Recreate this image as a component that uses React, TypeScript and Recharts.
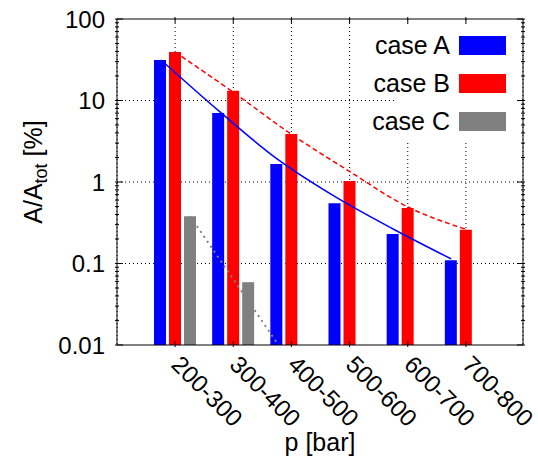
import { ComposedChart, Bar, Line, XAxis, YAxis, CartesianGrid, Legend, Label } from 'recharts'

const categories = ['200-300', '300-400', '400-500', '500-600', '600-700', '700-800']
const caseA = [31.4, 7.0, 1.66, 0.55, 0.23, 0.11]
const caseB = [39.4, 13.2, 3.88, 1.03, 0.48, 0.26]
const caseC: (number | null)[] = [0.38, 0.059, null, null, null, null]

// fitted curves, x in group units (0 = first group centre)
const fitAx = [-0.24, 0.76, 1.76, 2.76, 3.76, 4.76]
const fitAy = [31.4, 7.4, 1.92, 0.66, 0.265, 0.114]
const fitBx = [0, 1, 2, 3, 4, 5]
const fitBy = [39.4, 12.7, 3.88, 1.36, 0.5, 0.265]
const fitCx = [0.26, 1.26, 2.26]
const fitCy = [0.38, 0.035, 0.0032]

const yMajor = [0.01, 0.1, 1, 10, 100]
const yTicks = [
  ...[0.01, 0.1, 1, 10].flatMap((d) => [1, 2, 3, 4, 5, 6, 7, 8, 9].map((k) => (k === 1 ? d : d * k))),
  100,
]

const data = categories.map((cat, i) => ({ cat, A: caseA[i], B: caseB[i], C: caseC[i] }))
const fitA = fitAx.map((x, i) => ({ x, y: fitAy[i] }))
const fitB = fitBx.map((x, i) => ({ x, y: fitBy[i] }))
const fitC = fitCx.map((x, i) => ({ x, y: fitCy[i] }))

const FONT = 'Liberation Sans, Arial, sans-serif'
const PAD = { left: 29, right: 28 }

const LeftTick = ({ x, y, payload }: any) => {
  const major = yMajor.indexOf(payload.value) >= 0
  return (
    <g>
      <line x1={x} x2={x + (major ? 8 : 4)} y1={y} y2={y} stroke="#000" />
      {major && (
        <text x={x - 10} y={y} dy="0.36em" textAnchor="end" fontSize={24} fill="#000">
          {String(payload.value)}
        </text>
      )}
    </g>
  )
}

const RightTick = ({ x, y, payload }: any) => {
  const major = yMajor.indexOf(payload.value) >= 0
  return <line x1={x} x2={x - (major ? 8 : 4)} y1={y} y2={y} stroke="#000" />
}

const BottomTick = ({ x, y, payload }: any) => (
  <g>
    <line x1={x} x2={x} y1={y} y2={y - 6} stroke="#000" />
    <text
      x={x - 5}
      y={y + 19}
      transform={`rotate(45, ${x - 5}, ${y + 19})`}
      fontSize={24}
      fill="#000"
    >
      {payload.value}
    </text>
  </g>
)

const TopTick = ({ x, y }: any) => <line x1={x} x2={x} y1={y} y2={y + 6} stroke="#000" />

function KeyBox({ payload }: any) {
  const items = (payload || []).filter((p: any) => p.type !== 'none' && p.dataKey !== 'y')
  return (
    <div style={{ position: 'relative', width: 174, height: 115 }}>
      <div style={{ position: 'absolute', left: 55, top: 0, right: 0, bottom: 0, background: '#fff' }} />
      <div style={{ position: 'relative', paddingTop: 1 }}>
        {items.map((p: any) => (
          <div
            key={p.value}
            style={{ display: 'flex', justifyContent: 'flex-end', alignItems: 'center', height: 38 }}
          >
            <span style={{ fontSize: 25, lineHeight: 1, whiteSpace: 'nowrap', color: '#000' }}>{p.value}</span>
            <span style={{ width: 47, height: 19, background: p.color, marginLeft: 9, marginRight: 8 }} />
          </div>
        ))}
      </div>
    </div>
  )
}

export default function App() {
  return (
    <div style={{ position: 'absolute', left: 0, top: 0, fontFamily: FONT }}>
      <ComposedChart
        width={538}
        height={459}
        data={data}
        barGap={3}
        margin={{ top: 18, right: 14, left: 0, bottom: 0 }}
      >
        <CartesianGrid stroke="#000" strokeDasharray="1 3" horizontalValues={[0.1, 1, 10]} />
        <XAxis
          dataKey="cat"
          height={114}
          padding={PAD}
          interval={0}
          tickSize={0}
          tickLine={false}
          tick={<BottomTick />}
          axisLine={{ stroke: '#000' }}
        >
          <Label
            content={({ viewBox }: any) => (
              <text
                x={viewBox.x + viewBox.width / 2}
                y={viewBox.y + 106}
                textAnchor="middle"
                fontSize={25}
                fill="#000"
              >
                p [bar]
              </text>
            )}
          />
        </XAxis>
        <XAxis
          xAxisId="top"
          orientation="top"
          dataKey="cat"
          height={1}
          padding={PAD}
          interval={0}
          tickSize={0}
          tickLine={false}
          tick={<TopTick />}
          axisLine={{ stroke: '#000' }}
        />
        <XAxis xAxisId="fit" type="number" dataKey="x" domain={[-1, 6]} allowDataOverflow hide />
        <YAxis
          type="number"
          scale="log"
          domain={[0.01, 100]}
          allowDataOverflow
          ticks={yTicks}
          interval={0}
          width={117}
          tickSize={0}
          tickLine={false}
          tick={<LeftTick />}
          axisLine={{ stroke: '#000' }}
        >
          <Label
            content={({ viewBox }: any) => {
              const cx = viewBox.x + 42
              const cy = 172
              return (
                <text
                  x={cx}
                  y={cy}
                  transform={`rotate(-90, ${cx}, ${cy})`}
                  textAnchor="middle"
                  fontSize={25}
                  fill="#000"
                >
                  A/A
                  <tspan dy={5} fontSize={18}>tot</tspan>
                  <tspan dy={-5}> [%]</tspan>
                </text>
              )
            }}
          />
        </YAxis>
        <YAxis
          yAxisId="right"
          orientation="right"
          type="number"
          scale="log"
          domain={[0.01, 100]}
          allowDataOverflow
          ticks={yTicks}
          interval={0}
          width={1}
          tickSize={0}
          tickLine={false}
          tick={<RightTick />}
          axisLine={{ stroke: '#000' }}
        />
        <Legend
          layout="vertical"
          align="center"
          verticalAlign="middle"
          wrapperStyle={{ left: 340, top: 25, width: 174, height: 115 }}
          content={<KeyBox />}
        />
        <Bar dataKey="A" name="case A" fill="#0000ff" barSize={12} isAnimationActive={false} />
        <Bar dataKey="B" name="case B" fill="#ff0000" barSize={12} isAnimationActive={false} />
        <Bar dataKey="C" name="case C" fill="#808080" barSize={12} isAnimationActive={false} />
        <Line
          xAxisId="fit"
          data={fitA}
          dataKey="y"
          type="monotone"
          stroke="#0000ff"
          strokeWidth={1.5}
          dot={false}
          legendType="none"
          isAnimationActive={false}
        />
        <Line
          xAxisId="fit"
          data={fitB}
          dataKey="y"
          type="monotone"
          stroke="#ff0000"
          strokeWidth={1.5}
          strokeDasharray="5 3"
          dot={false}
          legendType="none"
          isAnimationActive={false}
        />
        <Line
          xAxisId="fit"
          data={fitC}
          dataKey="y"
          type="linear"
          stroke="#808080"
          strokeWidth={2}
          strokeDasharray="2 4"
          dot={false}
          legendType="none"
          isAnimationActive={false}
        />
      </ComposedChart>
    </div>
  )
}
